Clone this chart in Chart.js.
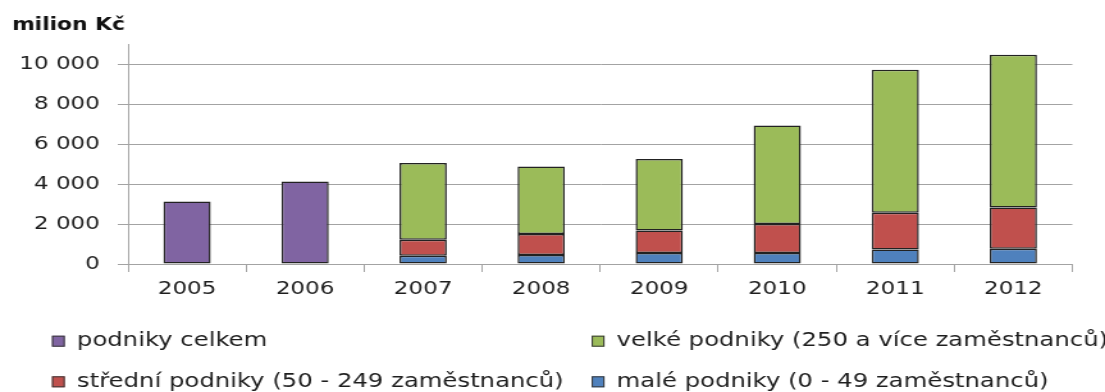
<!DOCTYPE html>
<html>
<head>
<meta charset="utf-8">
<script src="https://cdn.jsdelivr.net/npm/chart.js@4.4.1/dist/chart.umd.min.js"></script>
<style>
  html, body { margin: 0; padding: 0; background: #ffffff; overflow: hidden; width: 1105px; height: 392px; }
  /* the chart is laid out on a narrower canvas and widened to the page width */
  #chart { display: block; transform-origin: 0 0; transform: scaleX(1.2804); }
</style>
</head>
<body>
<canvas id="chart" width="863" height="392"></canvas>
<script>
// Research & development spending, million CZK
const years = ['2005', '2006', '2007', '2008', '2009', '2010', '2011', '2012'];
const allFirms    = [3130, 4130, null, null, null, null, null, null];
const largeFirms  = [null, null, 3835, 3380, 3570, 4930, 7150, 7635];
const mediumFirms = [null, null,  800, 1050, 1130, 1450, 1835, 2065];
const smallFirms  = [null, null,  415,  450,  550,  550,  730,  765];
const yTickValues = [0, 2000, 4000, 6000, 8000, 10000];
const unitTitle = 'milion Kč';

const labelAll    = 'podniky celkem';
const labelLarge  = 'velké podniky (250 a více zaměstnanců)';
const labelMedium = 'střední podniky (50 - 249 zaměstnanců)';
const labelSmall  = 'malé podniky (0 - 49 zaměstnanců)';

const FONT = 'DejaVu Sans';
const TEXT = '#1e1e1e';
const GRID = '#a3a3a3';
const EDGE = '#222222';

Chart.defaults.font.family = FONT;
Chart.defaults.color = TEXT;

const fmt = v => String(v).replace(/\B(?=(\d{3})+(?!\d))/g, ' ');

// unit caption above the value axis
const captionPlugin = {
  id: 'caption',
  afterDraw(chart) {
    const ctx = chart.ctx;
    ctx.save();
    ctx.font = 'bold 17px ' + FONT;
    ctx.fillStyle = '#111';
    ctx.textAlign = 'left';
    ctx.textBaseline = 'alphabetic';
    ctx.fillText(unitTitle, 9.4, 29.5);
    ctx.restore();
  }
};

// two-column legend under the axis
const gridLegendPlugin = {
  id: 'gridLegend',
  afterDraw(chart) {
    const ctx = chart.ctx;
    const ds = chart.data.datasets;
    const byLabel = l => ds.find(d => d.label === l);
    const order = [labelAll, labelLarge, labelMedium, labelSmall];
    const cols = [40.6, 462.1];
    const rows = [341.2, 381.8];
    ctx.save();
    ctx.font = '19px ' + FONT;
    ctx.textBaseline = 'middle';
    ctx.textAlign = 'left';
    order.forEach((lab, i) => {
      const d = byLabel(lab);
      const x = cols[i % 2];
      const y = rows[Math.floor(i / 2)];
      ctx.fillStyle = d.backgroundColor;
      ctx.fillRect(x, y - 5.5, 10, 11);
      ctx.lineWidth = 1;
      ctx.strokeStyle = '#3a3a3a';
      ctx.strokeRect(x + 0.5, y - 5, 9, 10);
      ctx.fillStyle = TEXT;
      ctx.fillText(d.label, x + 19.5, y);
    });
    ctx.restore();
  }
};

const barStyle = {
  borderColor: EDGE, borderWidth: 1.5, borderSkipped: false,
  barPercentage: 0.4, categoryPercentage: 1.0, stack: 'rd'
};

new Chart(document.getElementById('chart'), {
  type: 'bar',
  data: {
    labels: years,
    datasets: [
      { label: labelSmall,  data: smallFirms,  backgroundColor: '#4F81BD', ...barStyle },
      { label: labelMedium, data: mediumFirms, backgroundColor: '#C0504D', ...barStyle },
      { label: labelLarge,  data: largeFirms,  backgroundColor: '#9BBB59', ...barStyle },
      { label: labelAll,    data: allFirms,    backgroundColor: '#8064A2', ...barStyle }
    ]
  },
  options: {
    responsive: false,
    animation: false,
    devicePixelRatio: 1,
    layout: { padding: { top: 44, right: 25.5, bottom: 90, left: 0 } },
    plugins: {
      legend: { display: false },
      title: { display: false },
      tooltip: { enabled: false }
    },
    scales: {
      x: {
        stacked: true,
        grid: { offset: true, drawOnChartArea: false, drawTicks: true, tickLength: 8, color: GRID },
        border: { color: GRID },
        ticks: { font: { size: 18 }, color: TEXT, padding: 7, maxRotation: 0 },
        afterFit(scale) { scale.height = 38; }
      },
      y: {
        stacked: true,
        min: 0,
        max: 11000,
        afterBuildTicks(scale) { scale.ticks = yTickValues.map(v => ({ value: v })); },
        grid: { color: GRID, drawTicks: true, tickLength: 8 },
        border: { color: GRID },
        ticks: { font: { size: 18 }, color: TEXT, padding: 14, callback: v => fmt(v) },
        afterFit(scale) { scale.width = 100; }
      }
    }
  },
  plugins: [captionPlugin, gridLegendPlugin]
});
</script>
</body>
</html>
